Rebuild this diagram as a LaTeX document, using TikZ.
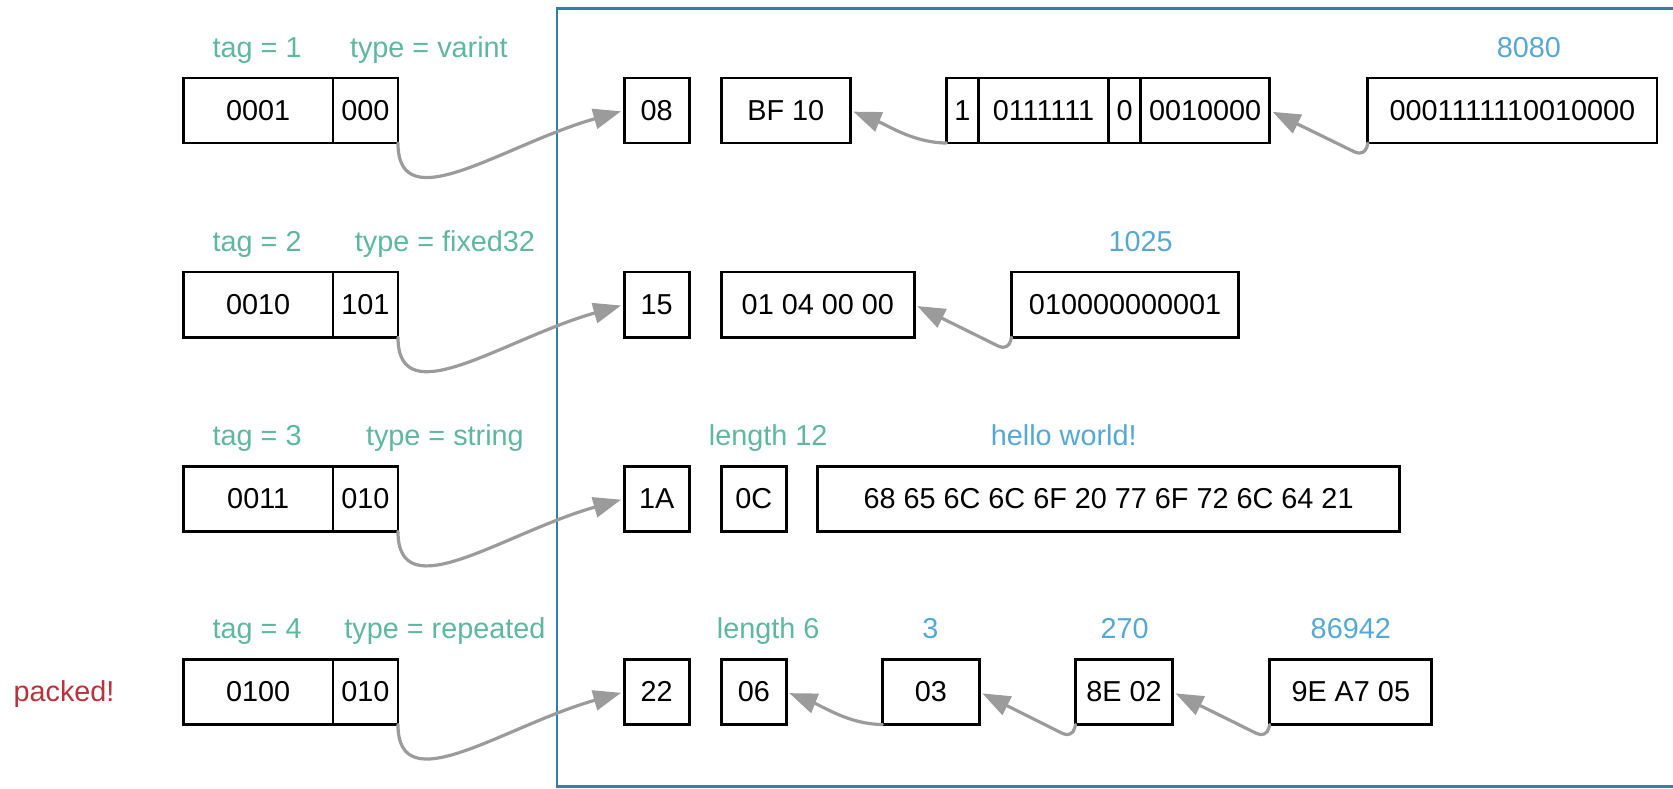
\documentclass[tikz,border=0pt]{standalone}
\usepackage{fontspec}
\setmainfont{Liberation Sans}
\usetikzlibrary{arrows.meta, positioning}
\definecolor{framec}{HTML}{2F80AD}
\definecolor{tagc}{HTML}{5EB7A0}
\definecolor{valc}{HTML}{55A8D3}
\definecolor{warnc}{HTML}{B8323C}
\definecolor{wire}{HTML}{9B9B9B}
\tikzset{
  cell/.style={draw, line width=1.3pt, minimum height=30.5pt, inner sep=0pt, outer sep=0pt},
  lbl/.style={anchor=base, inner sep=0pt},
  conn/.style={wire, line width=1.5pt, line cap=round, line join=round, -{Triangle[length=13pt,width=9.5pt]}, shorten >=1.5pt},
  hook/.style={conn, rounded corners=5pt}
}

\begin{document}
\begin{tikzpicture}[x=0.5pt, y=-0.5pt, font=\fontsize{13.5}{16}\selectfont]
  \useasboundingbox (0,0) rectangle (1568,739);
  \draw[framec, line width=1.1pt] (1600,8) -- (522,8) -- (522,737) -- (1600,737);
  % key bytes, one row per field
  \foreach \i/\y/\tg/\ty/\tx/\typ/\kb in {1/103.5/0001/000/402/varint/08, 2/285.5/0010/101/417/fixed32/15, 3/467.5/0011/010/417/string/1A, 4/648.5/0100/010/417/repeated/22}{
     \node[cell, minimum width=70pt] (tag\i) at (242,\y) {\tg};
     \node[cell, minimum width=30.5pt, right=0pt of tag\i] (typ\i) {\ty};
     \node[lbl, text=tagc] (tagl\i) at (241,\y-50) {tag = \i};
     \node[lbl, text=tagc] (typl\i) at (\tx,\y-50) {type = \typ};
     \node[cell, minimum width=30.5pt] (key\i) at (615.5,\y) {\kb};
     \draw[conn] (typ\i.south east) .. controls +(0,74) and +(-113,32) .. (key\i.west);}
  \node[lbl, text=warnc] (packed) at (60,657) {packed!};
  % varint 8080
  \node[cell, minimum width=60.5pt] (bf) at (736.5,103.5) {BF 10};
  \node[cell, minimum width=15pt] (bit1) at (902,103.5) {1};
  \node[cell, minimum width=61pt, right=0pt of bit1] (bit2) {0111111};
  \node[cell, minimum width=15pt, right=0pt of bit2] (bit3) {0};
  \node[cell, minimum width=60.5pt, right=0pt of bit3] (bit4) {0010000};
  \node[cell, minimum width=135.5pt] (bin1) at (1417.5,103.5) {0001111110010000};
  \node[lbl, text=valc] (dec1) at (1433,53.5) {8080};
  \draw[conn] (bit1.south west) .. controls +(-30,0) and +(35,14) .. (bf.east);
  \draw[hook] (bin1.south west) -- ++(-3,13) -- (bit4.east);
  % fixed32 1025
  \node[cell, minimum width=90.5pt] (le2) at (766.5,285.5) {01 04 00 00};
  \node[cell, minimum width=106.5pt] (bin2) at (1054.5,285.5) {010000000001};
  \node[lbl, text=valc] (dec2) at (1069,235.5) {1025};
  \draw[hook] (bin2.south west) -- ++(-3,13) -- (le2.east);
  % string
  \node[cell, minimum width=30.5pt] (len3) at (706.5,467.5) {0C};
  \node[cell, minimum width=273pt] (str3) at (1039,467.5) {68 65 6C 6C 6F 20 77 6F 72 6C 64 21};
  \node[lbl, text=tagc] (lenl3) at (720,417.5) {length 12};
  \node[lbl, text=valc] (strl3) at (997,417.5) {hello world!};
  % packed repeated
  \node[cell, minimum width=30.5pt] (len4) at (706.5,648.5) {06};
  \node[cell, minimum width=45.5pt] (el1) at (872.5,648.5) {03};
  \node[cell, minimum width=45.5pt] (el2) at (1053.5,648.5) {8E 02};
  \node[cell, minimum width=76pt] (el3) at (1266,648.5) {9E A7 05};
  \node[lbl, text=tagc] (lenl4) at (720,598.5) {length 6};
  \node[lbl, text=valc] (ell1) at (872,598.5) {3};
  \node[lbl, text=valc] (ell2) at (1054,598.5) {270};
  \node[lbl, text=valc] (ell3) at (1266,598.5) {86942};
  \draw[conn] (el1.south west) .. controls +(-30,0) and +(35,14) .. (len4.east);
  \draw[hook] (el2.south west) -- ++(-3,13) -- (el1.east);
  \draw[hook] (el3.south west) -- ++(-3,13) -- (el2.east);
\end{tikzpicture}
\end{document}
